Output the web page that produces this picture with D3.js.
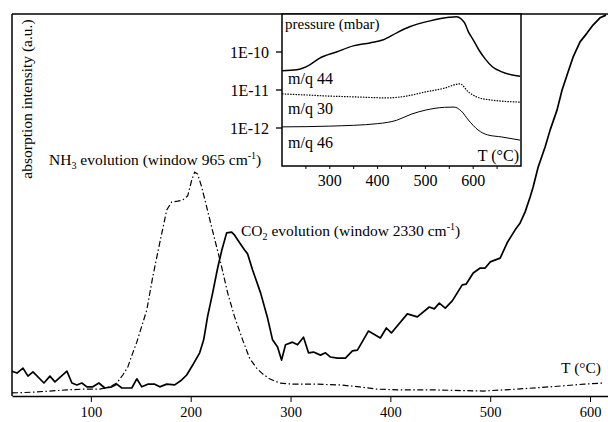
<!DOCTYPE html>
<html>
<head>
<meta charset="utf-8">
<script src="https://cdn.jsdelivr.net/npm/d3@7"></script>
<style>
  body { margin: 0; background: #fff; }
  svg text { font-family: "Liberation Serif", "Times New Roman", serif; fill: #000; }
</style>
</head>
<body>
<div id="chart"></div>
<script>
// main chart: IR absorption vs temperature (arbitrary units 0..100)
const co2T = [21, 26, 32, 37, 42, 53, 59, 64, 76, 81, 86, 91, 96, 102, 108, 114, 121, 126, 131, 141, 146, 151, 157, 164, 169, 176, 184, 191, 196, 202, 209, 213, 217, 222, 227, 231, 236, 241, 244, 249, 254, 257, 262, 270, 277, 282, 287, 291, 295, 302, 307, 313, 318, 323, 330, 335, 340, 347, 355, 362, 367, 378, 390, 396, 401, 417, 427, 439, 444, 449, 455, 462, 472, 476, 483, 490, 495, 500, 510, 517, 525, 530, 535, 540, 543, 548, 555, 560, 567, 572, 578, 583, 590, 597, 603, 610, 616];
const co2V = [6.5, 6.0, 7.3, 5.2, 6.3, 3.4, 5.2, 3.7, 6.5, 3.4, 2.9, 3.4, 2.4, 2.4, 3.4, 2.1, 2.4, 3.1, 2.1, 2.1, 4.5, 2.4, 3.1, 3.1, 2.4, 3.1, 2.9, 4.2, 5.5, 8.1, 11.3, 14.7, 20.9, 27.0, 33.5, 38.0, 42.7, 42.9, 42.1, 40.1, 38.2, 37.2, 33.0, 27.0, 20.4, 14.7, 12.8, 9.4, 13.4, 14.1, 13.4, 15.4, 11.3, 11.5, 10.7, 11.3, 10.2, 9.9, 9.9, 11.8, 12.0, 17.0, 15.2, 17.8, 16.5, 21.5, 20.7, 23.3, 22.8, 24.3, 23.0, 24.9, 29.1, 29.3, 32.2, 33.5, 33.5, 35.1, 36.1, 40.1, 43.5, 45.3, 48.2, 52.1, 54.7, 59.9, 65.2, 69.6, 74.9, 80.1, 84.8, 88.7, 92.7, 95.0, 97.1, 99.0, 99.7];

const nh3T = [21, 42, 76, 92, 109, 119, 126, 132, 137, 142, 146, 156, 162, 169, 176, 181, 187, 192, 197, 201, 204, 207, 211, 216, 221, 226, 231, 237, 244, 252, 259, 266, 272, 279, 289, 302, 326, 349, 369, 386, 409, 442, 493, 527, 560, 594, 614];
const nh3V = [0.8, 1.0, 1.6, 1.8, 1.8, 2.4, 3.4, 5.5, 7.6, 11.3, 14.1, 22.5, 31.2, 40.1, 48.7, 50.8, 51.0, 51.3, 52.4, 56.5, 58.6, 58.1, 54.7, 49.5, 44.2, 39.0, 33.8, 27.0, 20.7, 14.7, 9.9, 7.3, 5.8, 4.5, 3.4, 3.1, 3.1, 2.9, 2.4, 1.8, 1.6, 1.6, 1.3, 1.8, 2.4, 3.1, 3.4];

const mainTicks = [100, 200, 300, 400, 500, 600];

// inset: mass spectrometer signals (mbar)
const pressT = [200, 231, 258, 279, 314, 349, 384, 412, 440, 467, 510, 550, 565, 575, 582, 590, 600, 612, 625, 640, 660, 698];
const pressV = [3.2e-11, 3.4e-11, 4.6e-11, 6.9e-11, 1.0e-10, 1.45e-10, 1.73e-10, 2.1e-10, 3.2e-10, 4.6e-10, 6.6e-10, 8.2e-10, 8.5e-10, 7.4e-10, 5.8e-10, 3.4e-10, 2.1e-10, 1.13e-10, 6.6e-11, 4.1e-11, 3.0e-11, 2.3e-11];
const mq44T = [200, 250, 300, 350, 420, 460, 500, 540, 572, 590, 607, 635, 698];
const mq44V = [7.9e-12, 7.4e-12, 6.9e-12, 6.6e-12, 6.2e-12, 6.9e-12, 8.9e-12, 1.12e-11, 1.45e-11, 8.9e-12, 6.6e-12, 5.5e-12, 4.8e-12];
const mq30T = [200, 300, 400, 440, 470, 500, 540, 560, 575, 590, 610, 630, 660, 698];
const mq30V = [1.07e-12, 1.12e-12, 1.3e-12, 1.6e-12, 2.3e-12, 2.95e-12, 3.5e-12, 3.55e-12, 2.8e-12, 1.62e-12, 8.9e-13, 6.6e-13, 5.8e-13, 4.8e-13];
const insetXTicks = [300, 400, 500, 600];
const insetXMinor = [250, 350, 450, 550, 650];
const insetYTicks = [1e-10, 1e-11, 1e-12];
const insetYLabels = ["1E-10", "1E-11", "1E-12"];

const W = 608, H = 422;
const svg = d3.select("#chart").append("svg")
    .attr("width", W)
    .attr("height", H);

const x = d3.scaleLinear().domain([21, 618]).range([12, 608]);
const y = d3.scaleLinear().domain([0, 100]).range([396, 14]);

// main axes
const xAxis = svg.append("g")
    .attr("transform", "translate(0,396)")
    .call(d3.axisBottom(x).tickValues(mainTicks).tickSize(6).tickSizeOuter(0).tickPadding(5));
xAxis.select(".domain").attr("stroke-width", 1.5);
xAxis.selectAll("text").attr("font-size", 14.5).attr("font-family", "Liberation Serif");

svg.append("line").attr("x1", 12).attr("x2", 12).attr("y1", 14).attr("y2", 396)
    .attr("stroke", "#000").attr("stroke-width", 1.5);
svg.append("line").attr("x1", 12).attr("x2", 608).attr("y1", 14).attr("y2", 14)
    .attr("stroke", "#000").attr("stroke-width", 1.5);

const line = d3.line().x(d => x(d[0])).y(d => y(d[1]));

svg.append("path")
    .datum(d3.zip(nh3T, nh3V))
    .attr("d", line)
    .attr("fill", "none")
    .attr("stroke", "#000")
    .attr("stroke-width", 1.2)
    .attr("stroke-dasharray", "6,2.5,1.5,2.5");

svg.append("path")
    .datum(d3.zip(co2T, co2V))
    .attr("d", line)
    .attr("fill", "none")
    .attr("stroke", "#000")
    .attr("stroke-width", 1.7)
    .attr("stroke-linejoin", "round");

// y label
svg.append("text")
    .attr("transform", "translate(32,99) rotate(-90)")
    .attr("text-anchor", "middle")
    .attr("font-size", 15.5)
    .text("absorption intensity (a.u.)");

function molLabel(px, py, mol, sub, wn) {
    const t = svg.append("text").attr("x", px).attr("y", py).attr("font-size", 15.5);
    t.append("tspan").text(mol);
    t.append("tspan").attr("font-size", 10).attr("dy", 4).text(sub);
    t.append("tspan").attr("dy", -4).text(" evolution (window " + wn + " cm");
    t.append("tspan").attr("font-size", 10).attr("dy", -6).text("-1");
    t.append("tspan").attr("dy", 6).text(")");
}
molLabel(49, 165, "NH", "3", "965");
molLabel(241, 236, "CO", "2", "2330");

svg.append("text").attr("x", 601).attr("y", 373).attr("text-anchor", "end")
    .attr("font-size", 15.5).text("T (°C)");

// inset
const ix = d3.scaleLinear().domain([200, 700]).range([282, 521]);
const iy = d3.scaleLog().domain([1e-13, 1e-9]).range([166, 14]);

const inset = svg.append("g");
inset.append("rect")
    .attr("x", 282).attr("y", 14).attr("width", 239).attr("height", 152)
    .attr("fill", "#fff").attr("stroke", "#000").attr("stroke-width", 1.5);

inset.selectAll(".ytick").data(insetYTicks).enter().append("line")
    .attr("x1", 276).attr("x2", 282)
    .attr("y1", d => iy(d)).attr("y2", d => iy(d))
    .attr("stroke", "#000").attr("stroke-width", 1.3);
inset.selectAll(".ylab").data(insetYTicks).enter().append("text")
    .attr("x", 269).attr("y", d => iy(d) + 5.5)
    .attr("text-anchor", "end").attr("font-size", 16)
    .text((d, i) => insetYLabels[i]);

inset.selectAll(".xtick").data(insetXTicks.concat(insetXMinor)).enter().append("line")
    .attr("x1", d => ix(d)).attr("x2", d => ix(d))
    .attr("y1", 166).attr("y2", 169)
    .attr("stroke", "#000").attr("stroke-width", 1);
inset.selectAll(".xlab").data(insetXTicks).enter().append("text")
    .attr("x", d => ix(d)).attr("y", 186)
    .attr("text-anchor", "middle").attr("font-size", 16)
    .text(d => d);

const iline = d3.line().x(d => ix(d[0])).y(d => iy(d[1])).curve(d3.curveMonotoneX);

inset.append("path").datum(d3.zip(pressT, pressV)).attr("d", iline)
    .attr("fill", "none").attr("stroke", "#000").attr("stroke-width", 1.5);
inset.append("path").datum(d3.zip(mq44T, mq44V)).attr("d", iline)
    .attr("fill", "none").attr("stroke", "#000").attr("stroke-width", 1.2)
    .attr("stroke-dasharray", "1.5,1.2");
inset.append("path").datum(d3.zip(mq30T, mq30V)).attr("d", iline)
    .attr("fill", "none").attr("stroke", "#000").attr("stroke-width", 1);

inset.append("text").attr("x", 285).attr("y", 29).attr("font-size", 15).text("pressure (mbar)");
inset.append("text").attr("x", 288).attr("y", 84).attr("font-size", 16).text("m/q 44");
inset.append("text").attr("x", 288).attr("y", 114).attr("font-size", 16).text("m/q 30");
inset.append("text").attr("x", 288).attr("y", 148).attr("font-size", 16).text("m/q 46");
inset.append("text").attr("x", 519).attr("y", 161).attr("text-anchor", "end").attr("font-size", 16).text("T (°C)");
</script>
</body>
</html>
